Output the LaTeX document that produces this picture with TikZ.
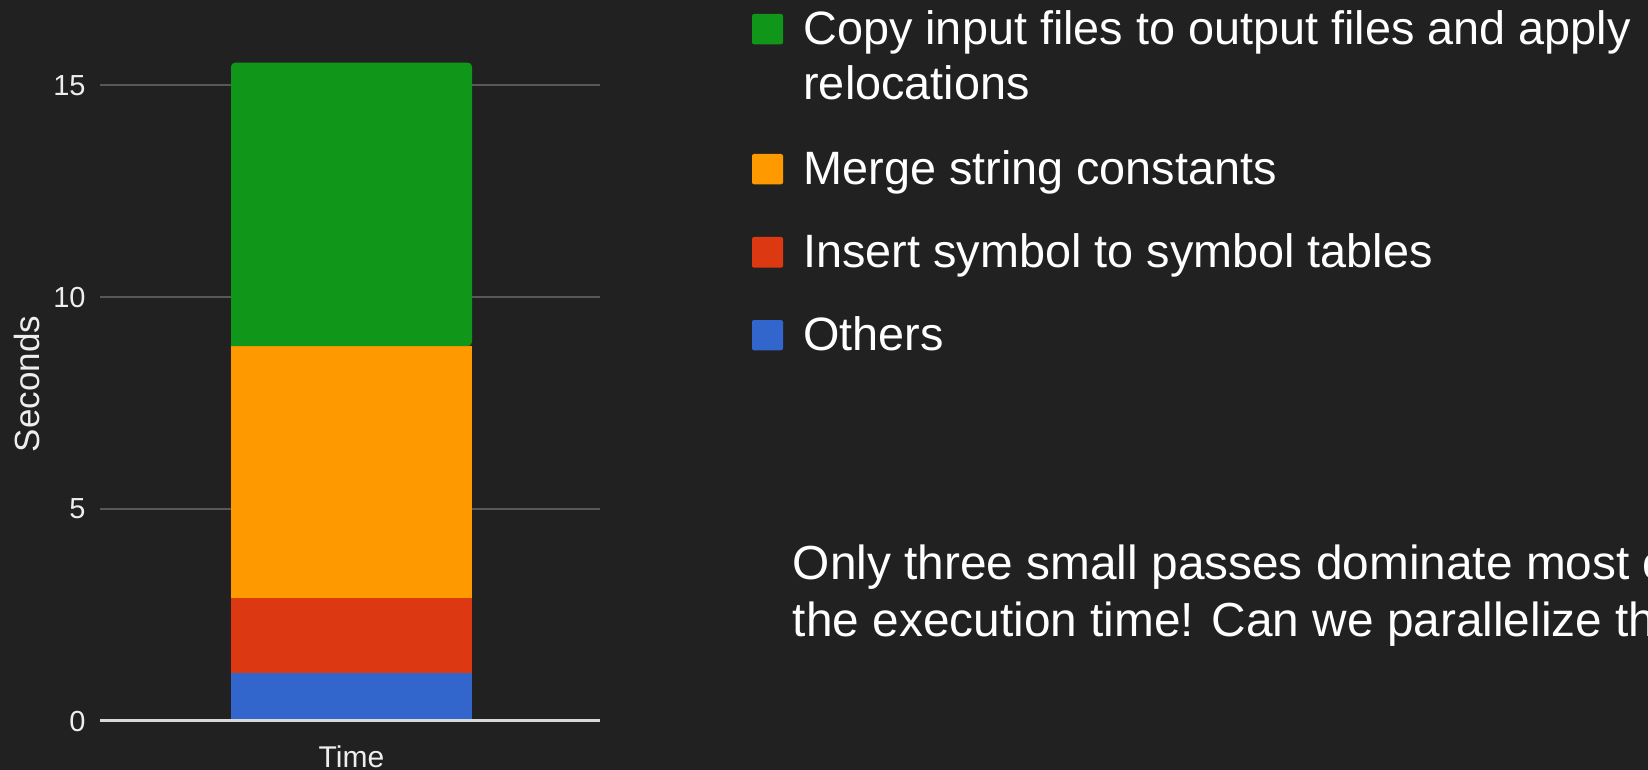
\documentclass[tikz,border=0pt]{standalone}
\usepackage{fontspec}
\setmainfont{Liberation Sans}
\definecolor{bg}{HTML}{212121}
\definecolor{gridc}{HTML}{585858}
\definecolor{basec}{HTML}{D8D8D8}
\definecolor{txt}{HTML}{EEEEEE}
\definecolor{cgreen}{HTML}{109618}
\definecolor{corange}{HTML}{FF9900}
\definecolor{cred}{HTML}{DC3912}
\definecolor{cblue}{HTML}{3366CC}
\tikzset{
  gridline/.style={draw=gridc, line width=1pt},
  baseline/.style={draw=basec, line width=1.3pt},
  ticklabel/.style={text=txt, anchor=east, inner sep=0pt, font=\fontsize{14.5}{17}\selectfont},
  axistitle/.style={text=txt, inner sep=0pt, font=\fontsize{17.5}{21}\selectfont},
  legsq/.style={rounded corners=1pt, draw=none},
  legtext/.style={text=white, anchor=base west, inner sep=0pt, font=\fontsize{23.4}{28}\selectfont},
  bodytext/.style={text=white, anchor=base west, inner sep=0pt, font=\fontsize{23.9}{28.7}\selectfont},
}
\begin{document}
\begin{tikzpicture}[x=0.5pt, y=-0.5pt]
  \clip (0,0) rectangle (1648,770);
  \fill[bg] (0,0) rectangle (1648,770);
  % grid lines
  \coordinate (g15l) at (100,84.7);  \coordinate (g15r) at (600,84.7);
  \coordinate (g10l) at (100,297.3); \coordinate (g10r) at (600,297.3);
  \coordinate (g5l)  at (100,508.5); \coordinate (g5r)  at (600,508.5);
  \coordinate (g0l)  at (100,720.7); \coordinate (g0r)  at (600,720.7);
  \draw[gridline] (g15l) -- (g15r);
  \draw[gridline] (g10l) -- (g10r);
  \draw[gridline] (g5l) -- (g5r);
  % stacked bar
  \fill[cblue] (231,672.3) rectangle (472,720.7);
  \fill[cred] (231,597.3) rectangle (472,672.6);
  \fill[corange] (231,345.7) rectangle (472,597.6);
  \fill[cgreen, rounded corners=2pt] (231,346) -- (231,62.7) -- (472,62.7) -- (472,346) [sharp corners] -- cycle;
  \draw[baseline] (g0l) -- (g0r);
  % tick labels
  \node[ticklabel] (t15) at (86,85.5) {15};
  \node[ticklabel] (t10) at (86,298) {10};
  \node[ticklabel] (t5)  at (86,509) {5};
  \node[ticklabel] (t0)  at (86,721.5) {0};
  \node[axistitle, rotate=90] (ytitle) at (26.5,384) {Seconds};
  \node[axistitle, anchor=base, font=\fontsize{15}{18}\selectfont] (xtitle) at (351.5,767) {Time};
  % legend
  \fill[cgreen, legsq]  (752,14) rectangle (783,44.3);
  \fill[corange, legsq] (752,154) rectangle (783,184.3);
  \fill[cred, legsq]    (752,237) rectangle (783,267.7);
  \fill[cblue, legsq]   (752,320) rectangle (783,350.3);
  \node[legtext] (l1a) at (803,44.3) {Copy input files to output files and apply};
  \node[legtext] (l1b) at (803,100) {relocations};
  \node[legtext] (l2) at (803,184.3) {Merge string constants};
  \node[legtext] (l3) at (803,267.7) {Insert symbol to symbol tables};
  \node[legtext] (l4) at (803,350) {Others};
  % comment text
  \node[bodytext] (c1) at (792.5,579.3) {Only three small passes dominate most o};
  \node[bodytext] (c2) at (792.5,636.7) {the execution time! Can we parallelize th};
\end{tikzpicture}
\end{document}
